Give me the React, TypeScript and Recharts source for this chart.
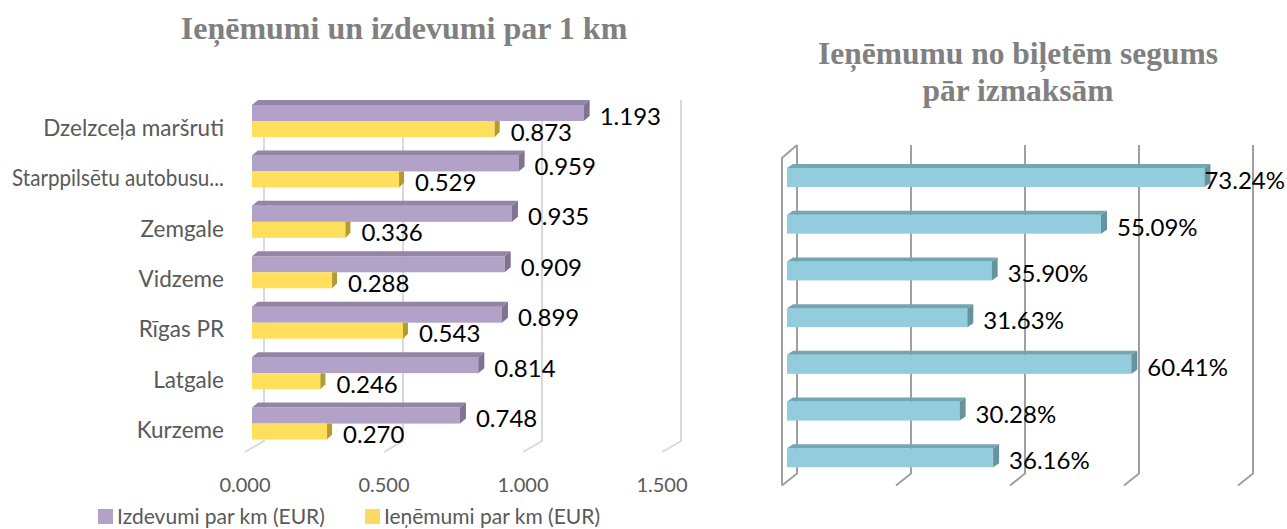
import React from "react";
import { BarChart, Bar, XAxis, YAxis, CartesianGrid, LabelList } from "recharts";

// categories (top to bottom) and values
const categories = [
  "Dzelzceļa maršruti",
  "Starppilsētu autobusu...",
  "Zemgale",
  "Vidzeme",
  "Rīgas PR",
  "Latgale",
  "Kurzeme",
];
const izdevumi = [1.193, 0.959, 0.935, 0.909, 0.899, 0.814, 0.748];
const ienemumi = [0.873, 0.529, 0.336, 0.288, 0.543, 0.246, 0.27];
const segums = [0.7324, 0.5509, 0.359, 0.3163, 0.6041, 0.3028, 0.3616];
const leftTicks = [0, 0.5, 1, 1.5];
const rightTicks = [0, 0.2, 0.4, 0.6, 0.8];

const leftData = categories.map((name, i) => ({ name, izdevumi: izdevumi[i], ienemumi: ienemumi[i] }));
const rightData = categories.map((name, i) => ({ name, segums: segums[i] }));

const FONT = "Lato, 'Open Sans', sans-serif";
const TITLE_FONT = "'Liberation Serif', 'Times New Roman', serif";
const GREY = "#595959";

const PURPLE = { front: "#b3a2c7", top: "#9385a6", side: "#7f7292" };
const YELLOW = { front: "#ffdf5c", top: "#ffdf5c", side: "#b39b2e" };
const CYAN = { front: "#93cddd", top: "#74a5b2", side: "#66939f" };

// fake 3D box: front face + top face + right side face
function Box3D(props: any) {
  const { x, y, width, height, colors, depth, rise, noTop } = props;
  if (!(width > 0)) return null;
  const r = x + width;
  return (
    <g>
      <rect x={x} y={y} width={width} height={height} fill={colors.front} />
      {!noTop && (
        <polygon
          points={`${x},${y} ${x + depth},${y - rise} ${r + depth},${y - rise} ${r},${y}`}
          fill={colors.top}
        />
      )}
      {noTop ? (
        <polygon points={`${r},${y} ${r + depth},${y} ${r + depth},${y + height - rise} ${r},${y + height}`} fill={colors.side} />
      ) : (
        <polygon
          points={`${r},${y} ${r + depth},${y - rise} ${r + depth},${y + height - rise} ${r},${y + height}`}
          fill={colors.side}
        />
      )}
    </g>
  );
}

const leftGridLine = (p: any) => {
  const { x1, y1, y2, index } = p;
  return (
    <path
      key={`lg-${index}`}
      d={`M${x1 + 12},${y1 + 4} L${x1 + 12},${y2 - 8} L${x1 - 7},${y2 + 3}`}
      stroke="#d9d9d9"
      strokeWidth={2}
      fill="none"
    />
  );
};

const rightGridLine = (p: any) => {
  const { x1, y1, y2, index } = p;
  const bx = x1 + 10;
  const fx = x1 - 5;
  return (
    <g key={`rg-${index}`}>
      <path
        d={`M${bx},${y1 - 9} L${bx},${y2 - 7.5} L${fx},${y2 + 4.5}`}
        stroke="#a0a0a0"
        strokeWidth={2}
        fill="none"
      />
      {index === 0 && (
        <path
          d={`M${fx},${y2 + 4.5} L${fx},${y1 + 4} L${bx},${y1 - 9}`}
          stroke="#a0a0a0"
          strokeWidth={2}
          fill="none"
        />
      )}
    </g>
  );
};

const valueLabel = (fmt: (v: number) => string, maxRight?: number) => (p: any) => {
  const { x, y, width, height, value } = p;
  const tx = x + width + 16;
  const txt = fmt(value);
  const estW = txt.length * 13.5;
  const clamp = maxRight != null && tx + estW > maxRight;
  return (
    <text
      x={clamp ? maxRight : tx}
      y={y + height / 2 + 2}
      textAnchor={clamp ? "end" : "start"}
      dominantBaseline="central"
      fontFamily={FONT}
      fontSize={24}
      fill="#000"
    >
      {txt}
    </text>
  );
};

const CategoryTick = (p: any) => {
  const label = String(p.payload.value);
  // long truncated label is squeezed to the room left of the plot
  const fit = label.length > 20 ? { textLength: 212, lengthAdjust: "spacingAndGlyphs" } : {};
  return (
    <text
      x={224}
      y={p.y + 6}
      textAnchor="end"
      dominantBaseline="central"
      fontFamily={FONT}
      fontSize={22.5}
      fill={GREY}
      {...fit}
    >
      {label}
    </text>
  );
};

const ValueTick = (p: any) => (
  <text x={p.x - 7} y={492} textAnchor="middle" fontFamily={FONT} fontSize={20} fill={GREY}>
    {Number(p.payload.value).toFixed(3)}
  </text>
);

export default function App() {
  return (
    <div style={{ position: "absolute", left: 0, top: 0, width: 1287, height: 529, background: "#fff", overflow: "hidden" }}>
      <div
        style={{
          position: "absolute",
          left: 104,
          top: 13,
          width: 600,
          textAlign: "center",
          fontFamily: TITLE_FONT,
          fontWeight: "bold",
          fontSize: 32,
          lineHeight: "30px",
          color: "#808080",
          whiteSpace: "nowrap",
        }}
      >
        Ieņēmumi un izdevumi par 1 km
      </div>
      <div
        style={{
          position: "absolute",
          left: 718,
          top: 35,
          width: 600,
          textAlign: "center",
          fontFamily: TITLE_FONT,
          fontWeight: "bold",
          fontSize: 31.5,
          lineHeight: "37px",
          color: "#808080",
          whiteSpace: "nowrap",
        }}
      >
        Ieņēmumu no biļetēm segums
        <br />
        pār izmaksām
      </div>

      <div style={{ position: "absolute", left: 0, top: 0 }}>
        <BarChart
          width={700}
          height={529}
          data={leftData}
          layout="vertical"
          margin={{ top: 96, right: 31, bottom: 40, left: 0 }}
          barGap={0}
          barSize={16}
        >
          <CartesianGrid horizontal={false} vertical={leftGridLine} />
          <XAxis
            type="number"
            domain={[0, 1.5]}
            ticks={leftTicks}
            axisLine={false}
            tickLine={false}
            height={40}
            tick={ValueTick}
          />
          <YAxis type="category" dataKey="name" width={252} axisLine={false} tickLine={false} tick={CategoryTick} />
          <Bar
            dataKey="izdevumi"
            isAnimationActive={false}
            shape={(p: any) => <Box3D {...p} colors={PURPLE} depth={6} rise={5} />}
          >
            <LabelList dataKey="izdevumi" content={valueLabel((v) => v.toFixed(3))} />
          </Bar>
          <Bar
            dataKey="ienemumi"
            isAnimationActive={false}
            shape={(p: any) => <Box3D {...p} colors={YELLOW} depth={5} rise={5} noTop />}
          >
            <LabelList dataKey="ienemumi" content={valueLabel((v) => v.toFixed(3))} />
          </Bar>
        </BarChart>
      </div>

      <div style={{ position: "absolute", left: 700, top: 0 }}>
        <BarChart
          width={587}
          height={529}
          data={rightData}
          layout="vertical"
          margin={{ top: 154, right: 44, bottom: 48, left: 87 }}
          barSize={19}
        >
          <CartesianGrid horizontal={false} vertical={rightGridLine} />
          <XAxis type="number" domain={[0, 0.8]} ticks={rightTicks} hide />
          <YAxis type="category" dataKey="name" hide />
          <Bar
            dataKey="segums"
            isAnimationActive={false}
            shape={(p: any) => <Box3D {...p} colors={CYAN} depth={6} rise={4} />}
          >
            <LabelList dataKey="segums" content={valueLabel((v) => (v * 100).toFixed(2) + "%", 585)} />
          </Bar>
        </BarChart>
      </div>

      <div
        style={{
          position: "absolute",
          left: 98,
          top: 505,
          display: "flex",
          alignItems: "center",
          fontFamily: FONT,
          fontSize: 21,
          lineHeight: "22px",
          color: GREY,
          whiteSpace: "nowrap",
        }}
      >
        <span style={{ width: 15, height: 15, background: PURPLE.front, marginRight: 4, display: "inline-block" }} />
        <span style={{ marginRight: 40 }}>Izdevumi par km (EUR)</span>
        <span style={{ width: 15, height: 15, background: "#ffd966", marginRight: 4, display: "inline-block" }} />
        <span>Ieņēmumi par km (EUR)</span>
      </div>
    </div>
  );
}
